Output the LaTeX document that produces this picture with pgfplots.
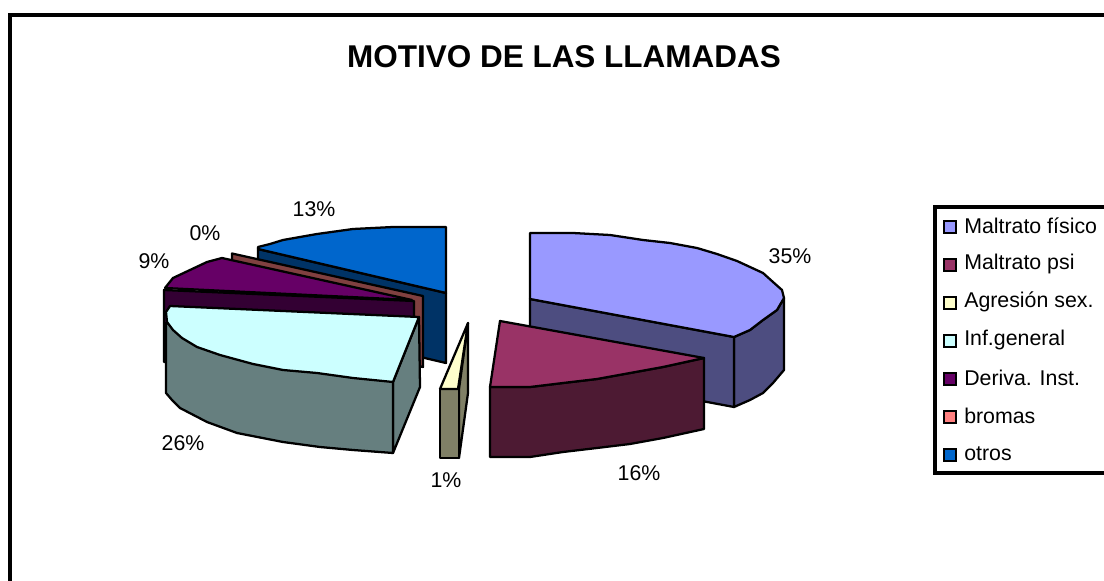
\documentclass[border=0pt]{standalone}
\usepackage{pgfplots}
\pgfplotsset{compat=1.18}
\usepackage{fontspec}
\setmainfont{Liberation Sans}
% fills of the slices and their shaded sides
\definecolor{fisico}{HTML}{9999FF}\definecolor{fisicoS}{HTML}{4D4D80}
\definecolor{psi}{HTML}{993366}\definecolor{psiS}{HTML}{4D1A33}
\definecolor{sexo}{HTML}{FFFFCC}\definecolor{sexoS}{HTML}{808066}
\definecolor{infg}{HTML}{CCFFFF}\definecolor{infgS}{HTML}{667F7F}
\definecolor{deriva}{HTML}{660066}\definecolor{derivaS}{HTML}{330033}
\definecolor{bromas}{HTML}{FF8080}\definecolor{bromasS}{HTML}{804040}
\definecolor{otros}{HTML}{0066CC}\definecolor{otrosS}{HTML}{003366}
\pgfplotsset{
  face/.style={draw=black,line width=1.7pt,line join=round,fill=#1,forget plot},
  key/.style={only marks,mark=square*,mark size=4.7pt,
    mark options={draw=black,line width=1.4pt,fill=#1},forget plot},
}
\tikzset{
  pct/.style={font=\fontsize{16}{18}\selectfont,text=black,inner sep=0pt},
  leg/.style={font=\fontsize{16}{18}\selectfont,text=black,anchor=west,inner sep=0pt},
}
\begin{document}
\begin{tikzpicture}
\begin{axis}[
  scale only axis,width=828pt,height=435.75pt,
  xmin=0,xmax=1104,ymin=0,ymax=581,y dir=reverse,
  axis lines=none,clip=true]
% chart frame
\addplot[draw=black,line width=3pt,forget plot] coordinates {(10,590)(10,15)(1110,15)};
% otros
\addplot[face=otrosS] coordinates {(258,249)(446,293)(446,363)(258,319)} -- cycle;
\addplot[face=otros] coordinates {(258,249)(258,247)(270,244)(283,240)(317,234)(353,229)(393,227)(446,227)(446,293)} -- cycle;
% bromas
\addplot[face=bromasS] coordinates {(232,253.5)(423,296)(423,367)(232,326)} -- cycle;
% deriva
\addplot[face=derivaS] coordinates {(164,290)(414,301)(414,371)(164,362)} -- cycle;
\addplot[face=deriva] coordinates {(222,258)(207,262)(190,270)(173,278)(165,288)(412,300)} -- cycle;
% inf general
\addplot[face=infgS] coordinates {(393,382)(419,317)(420,387)(393,453)} -- cycle;
\addplot[face=infgS] coordinates {(166,323)(166,393)(172,400)(180,408)(207,422)(237,433)(283,442)(320,447)(353,450)(393,453)(393,382)} -- cycle;
\addplot[face=infg] coordinates {(170,306)(419,317)(393,382)(353,378)(317,373)(283,370)(253,364)(220,355)(197,347)(182,338)(173,330)(167,322)(166,312)} -- cycle;
% agresion
\addplot[face=sexoS] coordinates {(459,389)(468,323)(468,393)(459,458)} -- cycle;
\addplot[face=sexoS] coordinates {(440,389)(459,389)(459,458)(440,458)} -- cycle;
\addplot[face=sexo] coordinates {(468,323)(440,389)(458,389)} -- cycle;
% maltrato fisico
\addplot[face=fisicoS] coordinates {(734,337)(750,330)(763,320)(777,310)(784,298)(784,370)(773,383)(763,393)(750,400)(734,407)} -- cycle;
\addplot[face=fisicoS] coordinates {(530,299)(734,337)(734,407)(530,369)} -- cycle;
\addplot[face=fisico] coordinates {(530,233)(573,233)(610,235)(643,240)(670,243)(697,248)(717,254)(737,261)(763,273)(773,282)(782,290)(784,298)(777,310)(763,320)(750,330)(734,337)(530,299)} -- cycle;
% maltrato psi
\addplot[face=psiS] coordinates {(490,387)(490,457)(530,457)(563,452)(597,448)(630,444)(663,438)(704,429)(704,358)(663,367)(630,373)(597,379)(563,383)(530,387)} -- cycle;
\addplot[face=psi] coordinates {(500,321)(704,358)(663,367)(630,373)(597,379)(563,383)(530,387)(490,387)} -- cycle;
% legend box
\addplot[draw=black,line width=2.4pt,forget plot] coordinates {(1110,207)(935,207)(935,473)(1110,473)};
\addplot[key=fisico] coordinates {(950,227)};
\addplot[key=psi] coordinates {(950,265)};
\addplot[key=sexo] coordinates {(950,303)};
\addplot[key=infg] coordinates {(950,341)};
\addplot[key=deriva] coordinates {(950,379)};
\addplot[key=bromas] coordinates {(950,417)};
\addplot[key=otros] coordinates {(950,455)};
\node[leg] at (axis cs:964,226) {Maltrato físico};
\node[leg] at (axis cs:964,264) {Maltrato psi};
\node[leg] at (axis cs:964,302) {Agresión sex.};
\node[leg] at (axis cs:964,340) {Inf.general};
\node[leg] at (axis cs:964,378) {Deriva. Inst.};
\node[leg] at (axis cs:964,416) {bromas};
\node[leg] at (axis cs:964,454) {otros};
% data labels
\node[pct] at (axis cs:790,256) {35\%};
\node[pct] at (axis cs:639,473) {16\%};
\node[pct] at (axis cs:446,480) {1\%};
\node[pct] at (axis cs:183,443) {26\%};
\node[pct] at (axis cs:154,261) {9\%};
\node[pct] at (axis cs:205,233) {0\%};
\node[pct] at (axis cs:314,209) {13\%};
\node[font=\bfseries\fontsize{23.6}{26}\selectfont,inner sep=0pt] at (axis cs:564,57) {MOTIVO DE LAS LLAMADAS};
\end{axis}
\pgfresetboundingbox
\path[use as bounding box] (0,0) rectangle (828pt,435.75pt);
\end{tikzpicture}
\end{document}
